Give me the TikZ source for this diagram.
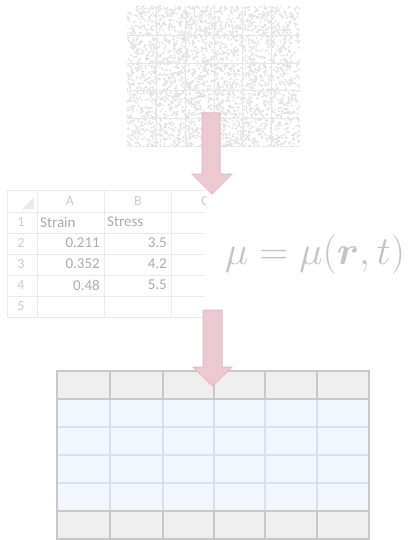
\documentclass[tikz,border=0pt]{standalone}
\usepackage{fontspec}
\usepackage{amsmath}
\usepackage{bm}
\newfontfamily\calib{Carlito}
\definecolor{pinkfill}{RGB}{236,201,209}
\definecolor{pinkline}{RGB}{228,186,197}
\definecolor{noisegray}{RGB}{226,226,226}
\definecolor{noisegrid}{RGB}{230,230,230}
\definecolor{tabgray}{RGB}{200,200,200}
\definecolor{headfill}{RGB}{238,238,238}
\definecolor{bodyfill}{RGB}{241,247,253}
\definecolor{bodyline}{RGB}{218,225,233}
\definecolor{sheetline}{RGB}{234,234,234}
\definecolor{sheettext}{RGB}{172,172,172}
\definecolor{sheetnum}{RGB}{205,205,205}
\definecolor{formulagray}{RGB}{196,196,196}
\tikzset{
  blockarrow/.style={fill=pinkfill,draw=pinkline,line width=1pt,line join=miter},
  cellA/.style={font=\calib\fontsize{15}{16}\selectfont,text=sheettext,inner sep=0pt},
  cellN/.style={font=\calib\fontsize{14}{16}\selectfont,text=sheetnum,inner sep=0pt},
}
\begin{document}
\begin{tikzpicture}[x=1pt,y=-1pt]
\useasboundingbox[fill=white] (0,0) rectangle (409,540);
% ---------- noise image ----------
\begin{scope}
\clip (127,6) rectangle (300,147);
\pgfmathsetseed{7}
\foreach \i in {1,...,3200}{
  \pgfmathsetmacro{\xx}{127+173*rnd}
  \pgfmathsetmacro{\yy}{6+141*rnd}
  \fill[noisegray] (\xx,\yy) circle (1.1);
}
\foreach \xx in {156,185,214,242,271}{\draw[noisegrid,line width=0.5pt] (\xx,6) -- (\xx,147);}
\foreach \yy in {35,63,90,118}{\draw[noisegrid,line width=0.5pt] (127,\yy) -- (300,\yy);}
\end{scope}
\draw[noisegray,dash pattern=on 1.5pt off 1.5pt,line width=0.8pt] (127,146.5) -- (300,146.5);
\node[inner sep=0pt,minimum width=173pt,minimum height=141pt] (noise) at (213.5,76.5) {};
% ---------- spreadsheet ----------
\begin{scope}
\clip (7,190) rectangle (205,317);
\foreach \yy in {212,233,254,275,296}{\draw[sheetline,line width=0.8pt] (7,\yy) -- (205,\yy);}
\foreach \xx in {37,104,171}{\draw[sheetline,line width=0.8pt] (\xx,190) -- (\xx,317);}
\draw[sheetline,line width=0.8pt] (7,190) rectangle (260,317);
\fill[sheetline] (34,197) -- (34,209) -- (22,209) -- cycle;
\node[cellN] (hA) at (70,201) {A};
\node[cellN] (hB) at (138,201) {B};
\node[cellN] (hC) at (205,201) {C};
\end{scope}
\node[cellN] (r1) at (21,222) {1};
\node[cellN] (r2) at (21,243) {2};
\node[cellN] (r3) at (21,264) {3};
\node[cellN] (r4) at (21,285) {4};
\node[cellN] (r5) at (21,306) {5};
\node[cellA,anchor=west] (s1) at (40,222) {Strain};
\node[cellA,anchor=west] (t1) at (107,222) {Stress};
\node[cellA,anchor=east] (s2) at (100,243) {0.211};
\node[cellA,anchor=east] (t2) at (167,243) {3.5};
\node[cellA,anchor=east] (s3) at (100,264) {0.352};
\node[cellA,anchor=east] (t3) at (167,264) {4.2};
\node[cellA,anchor=east] (s4) at (100,285) {0.48};
\node[cellA,anchor=east] (t4) at (167,285) {5.5};
\node[inner sep=0pt,minimum width=198pt,minimum height=127pt] (sheet) at (106,253.5) {};
% ---------- formula ----------
\node[text=formulagray,inner sep=0pt,font=\Huge,scale=1.6] (formula) at (315,255) {$\mu=\mu(\bm{r},t)$};
% ---------- table ----------
\fill[headfill] (57,371) rectangle (369,399);
\fill[bodyfill] (57,399) rectangle (369,511);
\fill[headfill] (57,511) rectangle (369,539);
\foreach \yy in {427,455,483}{\draw[bodyline,line width=2pt] (57,\yy) -- (369,\yy);}
\foreach \xx in {110,163,214,265,317}{
  \draw[tabgray,line width=2pt] (\xx,371) -- (\xx,399);
  \draw[bodyline,line width=2pt] (\xx,399) -- (\xx,511);
  \draw[tabgray,line width=2pt] (\xx,511) -- (\xx,539);
}
\draw[tabgray,line width=2.5pt] (57,399) -- (369,399);
\draw[tabgray,line width=2.5pt] (57,511) -- (369,511);
\draw[tabgray,line width=2.5pt] (57,371) rectangle (369,539);
\node[inner sep=0pt,minimum width=312pt,minimum height=168pt] (table) at (213,455) {};
% ---------- arrows ----------
\draw[blockarrow] (202,113) -- (220,113) -- (220,174) -- (232,174) -- (212,194) -- (192,174) -- (202,174) -- cycle;
\draw[blockarrow] (203,310) -- (222,310) -- (222,367) -- (232,367) -- (212.5,386) -- (193,367) -- (203,367) -- cycle;
\end{tikzpicture}
\end{document}
